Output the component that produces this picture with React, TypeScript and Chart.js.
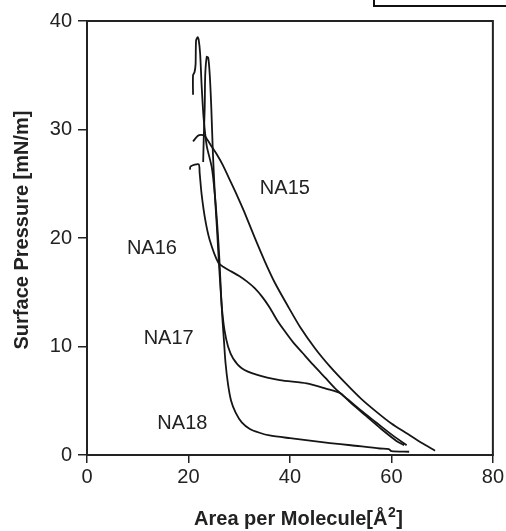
import React, { useEffect, useRef } from "react";
import { Chart, registerables } from "chart.js";

Chart.register(...registerables);

// ---- Data (area per molecule [Å²], surface pressure [mN/m]) ----
const na15Area = [68.6, 66, 63, 60, 57, 54, 51, 48, 45, 42, 39.5, 37, 35, 33, 31, 29.5, 28, 26.8, 25.6, 24.6, 23.8, 23.2, 22.5, 21.8, 20.9];
const na15Pressure = [0.4, 1.1, 2.0, 2.9, 4.0, 5.2, 6.6, 8.1, 9.8, 11.8, 13.8, 15.9, 17.9, 20.1, 22.4, 24.0, 25.5, 26.7, 27.7, 28.4, 29.0, 29.4, 29.5, 29.4, 28.9];

const na16Area = [63, 60, 57, 54, 51.5, 49.2, 47, 44.6, 42.5, 40.6, 39, 37.5, 36, 34.5, 33, 31.5, 30, 28.5, 27, 25.9, 24.2, 23.3, 22.6, 22.2, 22.0, 20.4, 20.3];
const na16Pressure = [0.9, 1.9, 3.0, 4.1, 5.1, 6.0, 7.1, 8.3, 9.4, 10.4, 11.4, 12.4, 13.6, 14.6, 15.4, 16.0, 16.5, 16.9, 17.3, 17.7, 19.8, 21.7, 24, 26.0, 26.8, 26.6, 26.3];

const na17Area = [62.5, 61, 58, 55, 52, 49.9, 47.2, 43.3, 38, 33.4, 30.5, 28.8, 27.8, 27.1, 26.6, 26.3, 26.0, 25.6, 25.2, 24.8, 24.5, 24.2, 23.9, 23.6, 23.3, 23.2, 23.0, 22.9];
const na17Pressure = [0.9, 1.3, 2.4, 3.6, 4.8, 5.7, 6.1, 6.6, 6.9, 7.4, 8.0, 8.9, 10.0, 11.5, 13.5, 15.5, 17.7, 21, 24, 28, 32, 35, 36.6, 36.7, 35, 32, 29, 27];

const na18Area = [63.5, 60, 59.5, 57.7, 52, 47.9, 40, 36, 34, 32.1, 30.5, 29.3, 28.4, 27.8, 27.3, 27.0, 26.7, 26.4, 26.1, 25.7, 25.2, 24.6, 23.6, 23.0, 22.6, 22.3, 22.0, 21.8, 21.5, 21.4, 21.2, 20.9, 20.9];
const na18Pressure = [0.3, 0.35, 0.55, 0.6, 0.9, 1.1, 1.55, 1.8, 2.05, 2.4, 3.0, 3.9, 5.0, 6.5, 8.5, 10.5, 12.5, 15, 18, 21, 24, 26.5, 28.5, 31, 34, 37, 38.3, 38.5, 38.2, 36, 35.3, 35, 33.2];

const seriesNames = ["NA15", "NA16", "NA17", "NA18"];
const labelAreas = [39, 12.8, 16.1, 18.8];
const labelPressures = [24.6, 19.05, 10.75, 2.9];

const xTitleMain = "Area per Molecule[Å";
const xTitleSup = "2";
const xTitleEnd = "]";
const yTitle = "Surface Pressure [mN/m]";

const FONT = '"Liberation Sans", Arial, Helvetica, sans-serif';

const toPoints = (xs: number[], ys: number[]) => xs.map((x, i) => ({ x, y: ys[i] }));

const decorPlugin = {
  id: "decor",
  afterDraw(chart: any) {
    const ctx = chart.ctx;
    const { left, right, top, bottom } = chart.chartArea;
    const xs = chart.scales.x;
    const ys = chart.scales.y;
    ctx.save();
    // plot frame
    ctx.strokeStyle = "#222";
    ctx.lineWidth = 2;
    ctx.strokeRect(left, top, right - left, bottom - top);
    // curve labels
    ctx.fillStyle = "#222";
    ctx.font = `20px ${FONT}`;
    ctx.textAlign = "center";
    ctx.textBaseline = "middle";
    seriesNames.forEach((n, i) => {
      ctx.fillText(n, xs.getPixelForValue(labelAreas[i]), ys.getPixelForValue(labelPressures[i]));
    });
    // x axis title with superscript
    const mainFont = `bold 20px ${FONT}`;
    const supFont = `bold 14px ${FONT}`;
    ctx.font = mainFont;
    const w1 = ctx.measureText(xTitleMain).width;
    const w3 = ctx.measureText(xTitleEnd).width;
    ctx.font = supFont;
    const w2 = ctx.measureText(xTitleSup).width;
    const total = w1 + w2 + w3;
    let x0 = 298 - total / 2;
    const yb = 525;
    ctx.textAlign = "left";
    ctx.textBaseline = "alphabetic";
    ctx.font = mainFont;
    ctx.fillText(xTitleMain, x0, yb);
    x0 += w1;
    ctx.font = supFont;
    ctx.fillText(xTitleSup, x0 + 0.5, yb - 8);
    x0 += w2 + 1;
    ctx.font = mainFont;
    ctx.fillText(xTitleEnd, x0, yb);
    // y axis title
    ctx.textAlign = "center";
    ctx.textBaseline = "middle";
    ctx.font = mainFont;
    ctx.translate(22, 230);
    ctx.rotate(-Math.PI / 2);
    ctx.fillText(yTitle, 0, 0);
    ctx.restore();
    // stray legend frame at top right
    ctx.save();
    ctx.strokeStyle = "#111";
    ctx.lineWidth = 2;
    ctx.strokeRect(374, -6, 140, 12);
    ctx.restore();
  },
};

export default function App() {
  const ref = useRef<HTMLCanvasElement | null>(null);
  useEffect(() => {
    if (!ref.current) return;
    const mk = (xs: number[], ys: number[], label: string) => ({
      label,
      data: toPoints(xs, ys),
      borderColor: "#151515",
      borderWidth: 1.8,
      pointRadius: 0,
      showLine: true,
      fill: false,
      tension: 0.25,
    });
    const chart = new Chart(ref.current, {
      type: "scatter",
      data: {
        datasets: [
          mk(na15Area, na15Pressure, "NA15"),
          mk(na16Area, na16Pressure, "NA16"),
          mk(na17Area, na17Pressure, "NA17"),
          mk(na18Area, na18Pressure, "NA18"),
        ],
      },
      options: {
        responsive: false,
        animation: false,
        layout: { padding: { top: 21, right: 13, left: 0, bottom: 0 } },
        plugins: { legend: { display: false }, tooltip: { enabled: false } },
        scales: {
          x: {
            type: "linear",
            min: 0,
            max: 80,
            afterFit: (s: any) => { s.height = 76; },
            ticks: { stepSize: 20, color: "#222", font: { size: 20, family: FONT }, padding: 2 },
            grid: { drawOnChartArea: false, drawTicks: true, tickLength: 8, color: "#222", lineWidth: 1.5 },
            border: { display: true, color: "#222", width: 2 },
          },
          y: {
            type: "linear",
            min: 0,
            max: 40,
            afterFit: (s: any) => { s.width = 87; },
            ticks: { stepSize: 10, color: "#222", font: { size: 20, family: FONT }, padding: 6 },
            grid: { drawOnChartArea: false, drawTicks: true, tickLength: 9, color: "#222", lineWidth: 1.5 },
            border: { display: true, color: "#222", width: 2 },
          },
        },
      },
      plugins: [decorPlugin],
    } as any);
    return () => chart.destroy();
  }, []);
  return (
    <div style={{ position: "fixed", left: 0, top: 0, width: 506, height: 531, background: "#fff" }}>
      <canvas ref={ref} width={506} height={531} style={{ display: "block" }} />
    </div>
  );
}
